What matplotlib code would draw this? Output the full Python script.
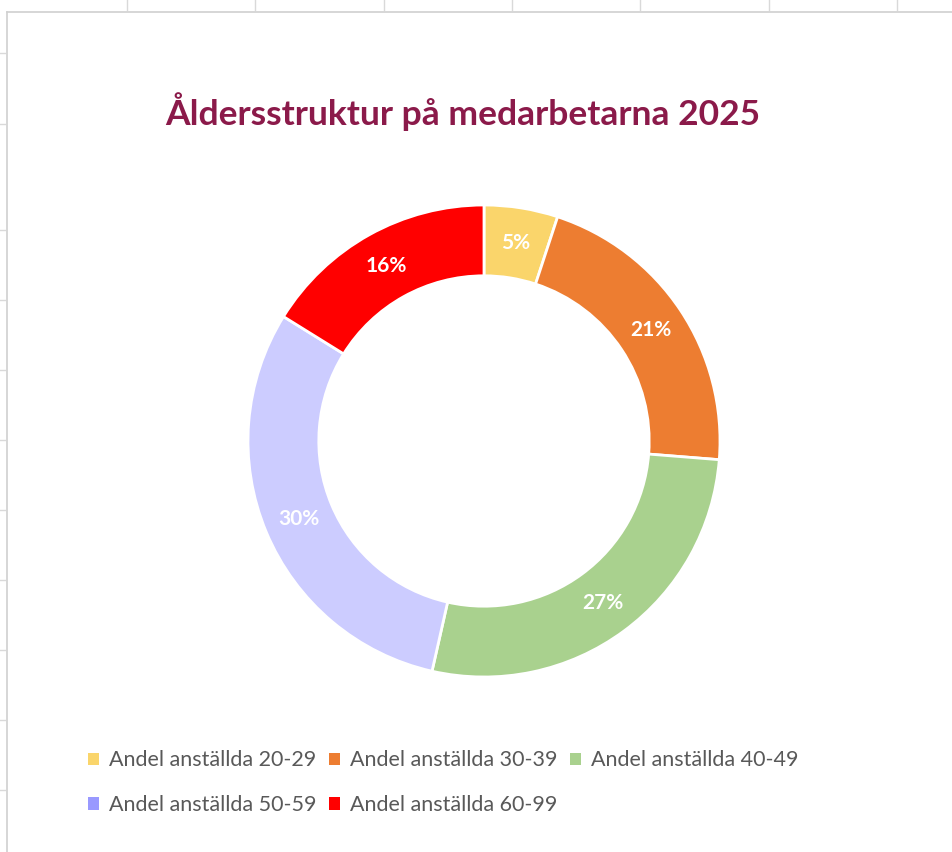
import matplotlib
matplotlib.use("Agg")
from matplotlib import pyplot as plt
from matplotlib.patches import Patch
from matplotlib.lines import Line2D

categories = ["Andel anställda 20-29", "Andel anställda 30-39", "Andel anställda 40-49",
              "Andel anställda 50-59", "Andel anställda 60-99"]
values = [5, 21, 27, 30, 16]
slice_colors = ["#FAD56B", "#ED7D31", "#A9D18E", "#CCCCFF", "#FF0000"]
legend_colors = ["#FAD56B", "#ED7D31", "#A9D18E", "#9999FF", "#FF0000"]
title = "Åldersstruktur på medarbetarna 2025"

plt.rcParams['font.family'] = ['Lato', 'DejaVu Sans']

fig = plt.figure(figsize=(9.52, 8.52), dpi=100)
W, H = 952, 852

# spreadsheet grid behind the chart object
for gx in [127, 255, 384, 512, 640, 769, 897]:
    fig.add_artist(Line2D([gx / W, gx / W], [1, 1 - 10 / H], color="#D9D9D9", lw=1))
for gy in [53, 124, 230, 300, 370, 440, 510, 580, 650, 720, 790]:
    fig.add_artist(Line2D([0, 5 / W], [1 - gy / H, 1 - gy / H], color="#D9D9D9", lw=1))
fig.add_artist(Line2D([7 / W, 7 / W], [0, 1 - 12 / H], color="#D0D0D0", lw=1.2))
fig.add_artist(Line2D([7 / W, 1], [1 - 12 / H, 1 - 12 / H], color="#D0D0D0", lw=1.2))

# donut: centre ~ (484, 441), outer radius ~236 px
r = 236
cx, cy = 484, 441
ax = fig.add_axes([(cx - r) / W, 1 - (cy + r) / H, 2 * r / W, 2 * r / H])
wedges, texts, autotexts = ax.pie(
    values, colors=slice_colors, startangle=90, counterclock=False,
    radius=1.0, wedgeprops=dict(width=0.30, edgecolor="white", linewidth=2),
    autopct=lambda p: f"{p:.0f}%", pctdistance=0.85,
    textprops=dict(color="white", fontsize=15, fontweight="bold"))
ax.set_xlim(-1, 1)
ax.set_ylim(-1, 1)
ax.set_aspect("equal")
ax.axis("off")

fig.text(463 / W, 1 - 112 / H, title, ha="center", va="center",
         fontsize=25.5, fontweight="bold", color="#8B1A4A")

# legend: row 1 three items, row 2 two items (column-major order)
handles = [Patch(facecolor=c, edgecolor="none") for c in legend_colors]
order = [0, 3, 1, 4, 2]
fig.legend([handles[i] for i in order], [categories[i] for i in order],
           ncol=3, loc="upper left", bbox_to_anchor=(69 / W, 1 - 731 / H),
           frameon=False, fontsize=15.5, labelcolor="#595959",
           handlelength=0.5, handleheight=0.5, handletextpad=0.45,
           columnspacing=0.6, labelspacing=1.15)

fig.savefig("out.png", dpi=100, facecolor="white")
